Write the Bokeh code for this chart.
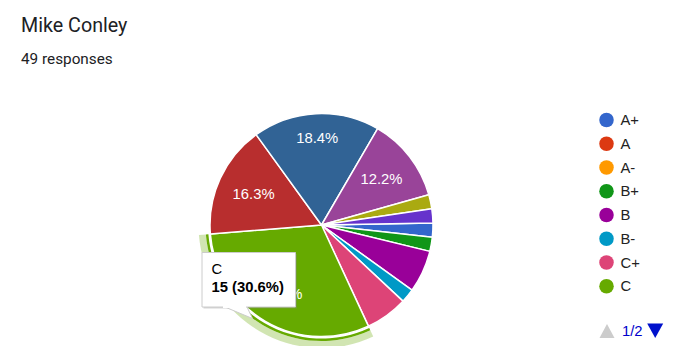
import numpy as np
from bokeh.plotting import figure
from bokeh.models import Range1d, ColumnDataSource
from bokeh.core.properties import value
from bokeh.embed import file_html
from bokeh.resources import INLINE

# ---------------- data ----------------
title = "Mike Conley"
subtitle = "49 responses"
categories = ["A+", "A", "A-", "B+", "B", "B-", "C+", "C", "C-", "D+", "D", "D-", "F", "Incomplete"]
counts = [1, 0, 0, 1, 3, 1, 3, 15, 8, 9, 6, 0, 1, 1]
colors = ["#3366cc", "#dc3912", "#ff9900", "#109618", "#990099", "#0099c6", "#dd4477",
          "#66aa00", "#b82e2e", "#316395", "#994499", "#22aa99", "#aaaa11", "#6633cc"]
legend_page_size = 8
legend_page = "1/2"
hovered = "C"

# ---------------- figure (data coords == screen pixels) ----------------
W, H = 669, 346
p = figure(width=W, height=H, x_range=Range1d(0, W), y_range=Range1d(362 - H, 362),
           output_backend="svg", toolbar_location=None, min_border=0,
           x_axis_location=None, y_axis_location=None)
p.grid.visible = False
p.outline_line_color = None
p.background_fill_color = "white"
p.border_fill_color = "white"


def Y(sy):
    return 362 - sy


ARIAL = value("Liberation Sans")
ROBOTO = value("Roboto")
MID = "middle"

# ---------------- pie ----------------
cx, cys, r = 321.0, 224.5, 111.5
cy = Y(cys)
start_cw = 89.0
total = float(sum(counts))
cum = np.cumsum([0] + counts)

sa, ea, fc, mids, idx = [], [], [], [], []
for i, c in enumerate(counts):
    if c == 0:
        continue
    t1 = start_cw + cum[i] / total * 360.0
    t2 = start_cw + cum[i + 1] / total * 360.0
    sa.append(np.radians(90 - t2))
    ea.append(np.radians(90 - t1))
    fc.append(colors[i])
    mids.append((t1 + t2) / 2)
    idx.append(i)

src = ColumnDataSource(dict(start=sa, end=ea, color=fc))
p.wedge(x=cx, y=cy, radius=r, start_angle="start", end_angle="end", fill_color="color",
        line_color="white", line_width=1.5, source=src)

# hover ring around the highlighted slice
hi = categories.index(hovered)
k = idx.index(hi)
p.annular_wedge(x=cx, y=cy, inner_radius=r + 2, outer_radius=r + 4.5,
                start_angle=sa[k], end_angle=ea[k], fill_color=colors[hi], line_color=None)
p.annular_wedge(x=cx, y=cy, inner_radius=r + 4.5, outer_radius=r + 11.5,
                start_angle=sa[k], end_angle=ea[k], fill_color=colors[hi], fill_alpha=0.3,
                line_color=None)

# slice labels
lx, ly, lt = [], [], []
hw, hh, R = 20.5, 5.8, 0.86 * r
for j, i in enumerate(idx):
    frac = counts[i] / total
    if frac < 0.1:
        continue
    th = np.radians(mids[j])
    ux, uy = np.sin(th), -np.cos(th)
    c = np.array([np.sign(ux) * hw, np.sign(uy) * hh])
    dot = ux * c[0] + uy * c[1]
    d = -dot + np.sqrt(dot ** 2 - (c ** 2).sum() + R ** 2)
    lx.append(cx + d * ux)
    ly.append(Y(cys + d * uy))
    lt.append("%.1f%%" % (frac * 100))
p.text(x=lx, y=ly, text=lt, text_font=ARIAL, text_font_size="14.8px", text_color="white",
       text_align="center", text_baseline=MID)

# ---------------- tooltip ----------------
bx0, by0, bx1, by1 = 201.5, 252.0, 295.0, 306.5
p.patch([bx0 + 1.5, bx1 + 1.5, bx1 + 1.5, bx0 + 1.5], [Y(by0 + 1.5), Y(by0 + 1.5), Y(by1 + 1.5), Y(by1 + 1.5)],
        fill_color="#888888", fill_alpha=0.35, line_color=None)
p.patch([222, 246, 252], [Y(by1 - 1), Y(by1 - 1), Y(318)], fill_color="white",
        line_color="#cccccc", line_width=1)
p.patch([bx0, bx1, bx1, bx0], [Y(by0), Y(by0), Y(by1), Y(by1)],
        fill_color="white", line_color="#cccccc", line_width=1)
p.segment(x0=[222.5], y0=[Y(by1)], x1=[245.5], y1=[Y(by1)], line_color="white", line_width=2)
tip_pct = counts[hi] / total * 100
p.text(x=[211], y=[Y(268)], text=[hovered], text_font=ARIAL, text_font_size="14.8px",
       text_color="#000000", text_baseline=MID)
p.text(x=[211], y=[Y(286.5)], text=["%d (%.1f%%)" % (counts[hi], tip_pct)], text_font=ARIAL,
       text_font_size="14.8px", text_font_style="bold", text_color="#000000",
       text_baseline=MID)

# ---------------- legend ----------------
leg_cats = categories[:legend_page_size]
leg_cols = colors[:legend_page_size]
ly0, lstep = 119.5, 23.75
leg_y = [Y(ly0 + n * lstep) for n in range(len(leg_cats))]
p.scatter(x=[606] * len(leg_cats), y=leg_y, size=14.5, marker="circle",
          fill_color=leg_cols, line_color=None)
p.text(x=[620] * len(leg_cats), y=leg_y,
       text=leg_cats, text_font=ARIAL, text_font_size="14.8px", text_color="#222222",
       text_baseline=MID)

# pager
ux0, uyc = 606.5, 330.5
p.patch([ux0 - 7.5, ux0 + 7.5, ux0], [Y(uyc + 7), Y(uyc + 7), Y(uyc - 7)],
        fill_color="#cccccc", line_color=None)
dx0 = 654.7
p.patch([dx0 - 8, dx0 + 8, dx0], [Y(uyc - 7.5), Y(uyc - 7.5), Y(uyc + 7)],
        fill_color="#0011cc", line_color=None)
p.text(x=[621.5], y=[Y(330)], text=[legend_page], text_font=ARIAL, text_font_size="14.8px",
       text_color="#0000cc", text_baseline=MID)

# ---------------- title ----------------
p.text(x=[20.5], y=[Y(25)], text=[title], text_font=ROBOTO, text_font_size="19.7px",
       text_color="#202124", text_baseline=MID)
p.text(x=[20.5], y=[Y(58.5)], text=[subtitle], text_font=ROBOTO, text_font_size="15.3px",
       text_color="#202124", text_baseline=MID)

open("out.html", "w").write(file_html(p, INLINE))
